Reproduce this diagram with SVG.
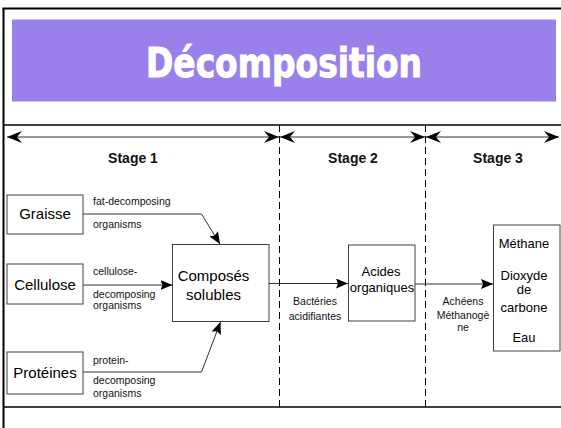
<svg xmlns="http://www.w3.org/2000/svg" width="561" height="428" viewBox="0 0 561 428">
<style>
.box{fill:#fff;stroke:#404040;stroke-width:1}
.lbl{font-family:"Liberation Sans",Arial,sans-serif;fill:#000}
.big{font-size:15px;text-anchor:middle}
.mid{font-size:13px;text-anchor:middle}
.sm{font-size:10.5px;fill:#111}
.stage{font-family:"Liberation Sans",Arial,sans-serif;font-weight:bold;font-size:14px;text-anchor:middle;fill:#111}
.conn{fill:none;stroke:#303030;stroke-width:1}
.dash{stroke:#000;stroke-width:1;stroke-dasharray:7 4}
</style>
<defs>
<marker id="sa" viewBox="0 0 15 12" refX="15" refY="6" markerWidth="15" markerHeight="12" markerUnits="userSpaceOnUse" orient="auto-start-reverse">
<path d="M0,0 L15,6 L0,12 L5,6 Z" fill="#000"/>
</marker>
<marker id="ca" viewBox="0 0 12 10" refX="12" refY="5" markerWidth="12" markerHeight="10" markerUnits="userSpaceOnUse" orient="auto">
<path d="M0,0 L12,5 L0,10 L2,5 Z" fill="#000"/>
</marker>
</defs>
<rect x="0" y="0" width="561" height="428" fill="#fff"/>
<g id="frame">
<line x1="3.5" y1="8" x2="3.5" y2="428" stroke="#000" stroke-width="2"/>
<line x1="2.5" y1="8.5" x2="561" y2="8.5" stroke="#000" stroke-width="2"/>
<line x1="3" y1="125" x2="561" y2="125" stroke="#000" stroke-width="1.5"/>
<line x1="3" y1="407" x2="561" y2="407" stroke="#000" stroke-width="1.5"/>
<line class="dash" x1="279.5" y1="125" x2="279.5" y2="407"/>
<line class="dash" x1="425.5" y1="125" x2="425.5" y2="407"/>
</g>
<g id="title">
<rect x="12" y="19.5" width="544" height="82" fill="#9980EB"/>
<text x="284" y="77" font-family="'DejaVu Sans Condensed','DejaVu Sans',sans-serif" font-stretch="condensed" font-weight="bold" font-size="41" fill="#fff" stroke="#fff" stroke-width="1" text-anchor="middle" textLength="276" lengthAdjust="spacingAndGlyphs">Décomposition</text>
</g>
<g id="stages">
<line x1="7" y1="137" x2="279" y2="137" stroke="#333" stroke-width="1" marker-start="url(#sa)" marker-end="url(#sa)"/>
<line x1="280" y1="137" x2="425" y2="137" stroke="#333" stroke-width="1" marker-start="url(#sa)" marker-end="url(#sa)"/>
<line x1="426" y1="137" x2="559" y2="137" stroke="#333" stroke-width="1" marker-start="url(#sa)" marker-end="url(#sa)"/>
<text class="stage" x="133" y="163">Stage 1</text>
<text class="stage" x="353" y="163">Stage 2</text>
<text class="stage" x="498" y="163">Stage 3</text>
</g>
<g id="connectors">
<polyline class="conn" points="83,214 201.5,214 220,244" marker-end="url(#ca)"/>
<line class="conn" x1="83" y1="285" x2="172.5" y2="285" marker-end="url(#ca)"/>
<polyline class="conn" points="83,372 201.5,372 220.5,322" marker-end="url(#ca)"/>
<line class="conn" x1="269" y1="283.5" x2="348" y2="283.5" marker-end="url(#ca)"/>
<line class="conn" x1="415" y1="284" x2="493" y2="284" marker-end="url(#ca)"/>
<text class="lbl sm" x="93" y="205">fat-decomposing</text>
<text class="lbl sm" x="93" y="228">organisms</text>
<text class="lbl sm" x="93" y="275">cellulose-</text>
<text class="lbl sm" x="93" y="298">decomposing</text>
<text class="lbl sm" x="93" y="309">organisms</text>
<text class="lbl sm" x="93" y="364">protein-</text>
<text class="lbl sm" x="93" y="384">decomposing</text>
<text class="lbl sm" x="93" y="397">organisms</text>
<text class="lbl sm" x="315" y="305" text-anchor="middle">Bactéries</text>
<text class="lbl sm" x="315" y="319.5" text-anchor="middle">acidifiantes</text>
<text class="lbl sm" x="463" y="305" text-anchor="middle">Achéens</text>
<text class="lbl sm" x="463" y="318.5" text-anchor="middle">Méthanogè</text>
<text class="lbl sm" x="463" y="331" text-anchor="middle">ne</text>
</g>
<g id="graisse">
<rect class="box" x="7" y="195" width="76" height="39"/>
<text class="lbl big" x="45" y="219">Graisse</text>
</g>
<g id="cellulose">
<rect class="box" x="7" y="264" width="76" height="40"/>
<text class="lbl big" x="45" y="290">Cellulose</text>
</g>
<g id="proteines">
<rect class="box" x="7" y="352" width="76" height="42"/>
<text class="lbl big" x="45" y="378">Protéines</text>
</g>
<g id="composes">
<rect class="box" x="172.5" y="244.5" width="96.5" height="77"/>
<text class="lbl big" x="213.5" y="281">Composés</text>
<text class="lbl big" x="213.5" y="299.5">solubles</text>
</g>
<g id="acides">
<rect class="box" x="348.5" y="245" width="66.5" height="76"/>
<text class="lbl mid" x="381" y="276">Acides</text>
<text class="lbl mid" x="382" y="292">organiques</text>
</g>
<g id="produits">
<rect class="box" x="493.5" y="225" width="66.5" height="126"/>
<text class="lbl mid" x="524" y="248">Méthane</text>
<text class="lbl mid" x="524" y="280">Dioxyde</text>
<text class="lbl mid" x="524" y="293.5">de</text>
<text class="lbl mid" x="524" y="311.5">carbone</text>
<text class="lbl mid" x="524" y="341.5">Eau</text>
</g>
</svg>
